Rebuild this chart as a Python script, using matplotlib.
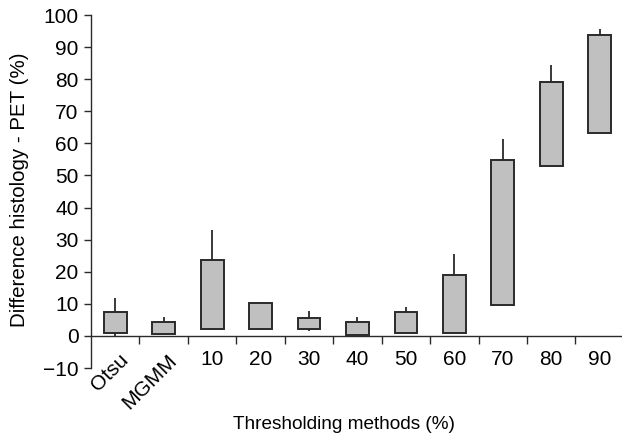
import matplotlib
matplotlib.use("Agg")
import matplotlib.pyplot as plt
import numpy as np

plt.rcParams['font.family'] = ['Liberation Sans', 'DejaVu Sans']

categories = ["Otsu", "MGMM", "10", "20", "30", "40", "50", "60", "70", "80", "90"]
box_low = [0.8, 0.5, 2.3, 2.0, 2.1, 0.4, 0.9, 1.0, 9.7, 53.0, 63.2]
box_high = [7.6, 4.3, 23.8, 10.2, 5.7, 4.3, 7.3, 18.9, 54.9, 79.2, 93.8]
whisk_low = [0.0, 0.5, 1.8, 1.7, 1.5, 0.0, 0.9, 0.8, 9.2, 52.6, 63.0]
whisk_high = [11.8, 5.9, 32.9, 10.6, 7.8, 5.9, 8.9, 25.5, 61.3, 84.5, 95.6]
y_ticks = [-10, 0, 10, 20, 30, 40, 50, 60, 70, 80, 90, 100]

W, H = 622, 436
fig = plt.figure(figsize=(W / 100, H / 100), dpi=100)
ax = fig.add_axes([91 / W, (H - 368) / H, 1 - 91 / W, (368 - 15) / H])

x = np.arange(len(categories))
edge = '#2a2a2a'
ax.vlines(x, box_high, whisk_high, color=edge, lw=1.3, zorder=2)
ax.vlines(x, whisk_low, box_low, color=edge, lw=1.3, zorder=2)
ax.bar(x, np.array(box_high) - np.array(box_low), bottom=box_low, width=0.47,
       color='#c0c0c0', edgecolor=edge, linewidth=1.4, zorder=3)

ax.set_xlim(-0.5, 10.46)
ax.set_ylim(-10, 100)

for s in ['top', 'right']:
    ax.spines[s].set_visible(False)
ax.spines['bottom'].set_position(('data', 0))
ax.spines['bottom'].set_color(edge)
ax.spines['left'].set_color(edge)
ax.spines['bottom'].set_linewidth(1.0)
ax.spines['left'].set_linewidth(1.0)

ax.set_yticks(y_ticks)
ax.set_yticklabels([f"{v}".replace('-', '\u2212') for v in y_ticks])
ax.tick_params(axis='y', length=5, width=1, color=edge, pad=4, labelsize=15)

ax.set_xticks(x[:-1] + 0.5)
ax.set_xticklabels([])
ax.tick_params(axis='x', length=6, width=1, color=edge, direction='out')

for i, lab in enumerate(categories):
    if i < 2:
        ax.text(i + 0.22, -6.6, lab, rotation=45, rotation_mode='anchor',
                ha='right', va='center', fontsize=15)
    else:
        ax.text(i, -7.4, lab, ha='center', va='center', fontsize=15)

fig.text(344 / W, 1 - 424 / H, "Thresholding methods (%)", ha='center', va='center', fontsize=13.7)
fig.text(20 / W, 1 - 190 / H, "Difference histology - PET (%)", ha='center', va='center',
         rotation=90, fontsize=14.8)

fig.savefig("out.png", dpi=100)
